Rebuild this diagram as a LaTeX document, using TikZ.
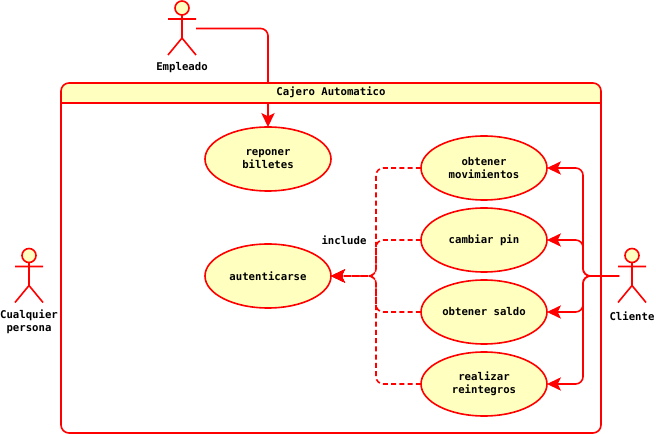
\documentclass[tikz,border=0pt]{standalone}
\usepackage{fontspec}
\setmainfont{DejaVu Sans Mono}[BoldFont={DejaVu Sans Mono Bold}]
\usetikzlibrary{shapes.geometric,arrows.meta}
\definecolor{umlred}{HTML}{FF0000}
\definecolor{umlfill}{HTML}{FFFFC0}
\tikzset{
  umlline/.style={draw=umlred,line width=1.2pt},
  usecase/.style={ellipse,umlline,fill=umlfill,minimum width=94.5pt,minimum height=48pt,
    inner sep=0pt,outer sep=0pt,align=center,font=\fontsize{8}{9.75}\selectfont\bfseries,text=black},
  caption/.style={inner sep=0pt,align=center,font=\fontsize{8}{9.75}\selectfont\bfseries,text=black},
  assoc/.style={umlline,rounded corners=5.5pt,-{Stealth[length=10.5pt,width=10pt,inset=2.5pt]}},
  incl/.style={assoc,dash pattern=on 3.8pt off 2.4pt},
  pics/stick/.style={code={
    \draw[umlline,line join=round] (-14,11)--(14,11) (0,7)--(0,30) (-14,47)--(0,30)--(14,47);
    \draw[umlline,fill=umlfill] (0,0) circle[radius=5.25pt];
  }}
}
\begin{document}
\begin{tikzpicture}[x=.75pt,y=-.75pt]
\useasboundingbox (0,0) rectangle (656,434);
% actors
\pic at (182,8) {stick};
\pic at (29,255.5) {stick};
\pic at (632,255.5) {stick};
\node[caption] (lblEmpleado) at (182,68) {Empleado};
\node[caption] (lblCualquier) at (29,322) {Cualquier\\persona};
\node[caption] (lblCliente) at (632,316) {Cliente};
% use cases
\node[usecase] (reponer) at (268,159) {reponer\\billetes};
\node[usecase] (auth) at (268,276) {autenticarse};
\node[usecase] (movs) at (484,168) {obtener\\movimientos};
\node[usecase] (pin) at (484,240) {cambiar pin};
\node[usecase] (saldo) at (484,312) {obtener saldo};
\node[usecase] (reint) at (484,384) {realizar\\reintegros};
% connector anchors
\coordinate (empOut) at (196,28.5);
\coordinate (cliOut) at (619,276);
\coordinate (cliJoin) at (583,276);
\coordinate (inclJoin) at (376,276);
% connectors
\draw[assoc] (empOut) -| (reponer.north);
\foreach \t in {movs,pin,saldo,reint}
  \draw[assoc] (cliOut) -- (cliJoin) |- (\t.east);
\foreach \t in {movs,pin,saldo,reint}
  \draw[incl] (\t.west) -| (inclJoin) -- (auth.east);
% container
\fill[umlfill] (61,103) [rounded corners=6pt] -- (61,83) -- (601,83) [sharp corners] -- (601,103) -- cycle;
\draw[umlline,rounded corners=6pt] (61,103) -- (61,83) -- (601,83) -- (601,433) -- (61,433) -- cycle;
\draw[umlline] (61,103) -- (601,103);
\node[caption] (title) at (331,92.5) {Cajero Automatico};
\node[caption] (lblInclude) at (344,240) {include};
\end{tikzpicture}
\end{document}
